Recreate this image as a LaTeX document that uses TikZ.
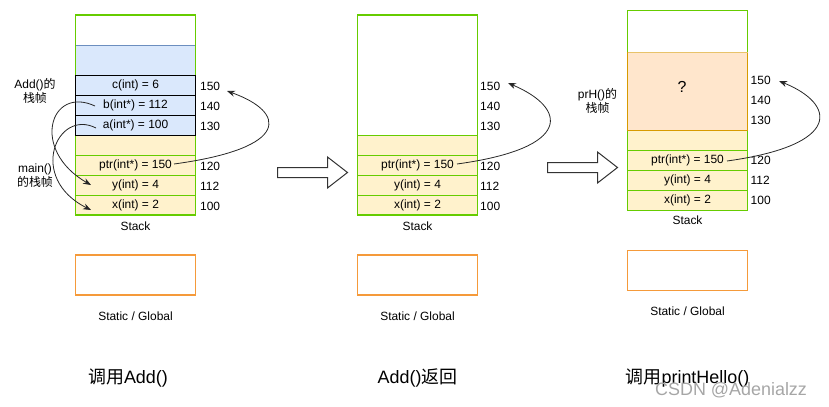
\documentclass[tikz,border=0pt]{standalone}
\usepackage{fontspec}
\setmainfont{Liberation Sans}
\newfontfamily\cjkfont{Noto Sans CJK SC}
\newcommand{\zhtxt}[1]{{\cjkfont #1}}
\usetikzlibrary{arrows.meta}
\definecolor{sgreen}{HTML}{66CC00}
\definecolor{bfill}{HTML}{DAE8FC}
\definecolor{bline}{HTML}{6C8EBF}
\definecolor{yfill}{HTML}{FFF2CC}
\definecolor{ofill}{HTML}{FFE6CC}
\definecolor{oline}{HTML}{D79B00}
\definecolor{otop}{HTML}{E8C36A}
\definecolor{sline}{HTML}{F59A3A}
\begin{document}
\begin{tikzpicture}[x=1bp,y=-1bp,
  cell/.style={minimum width=120bp, minimum height=20bp, inner sep=0pt, outer sep=0pt,
    anchor=north west, font=\fontsize{12}{14}\selectfont, line width=1bp},
  bluecell/.style={cell, fill=bfill, draw=black},
  yelcell/.style={cell, fill=yfill, draw=sgreen},
  outer/.style={draw=sgreen, line width=1.1bp},
  addr/.style={anchor=west, inner sep=0pt, font=\fontsize{12}{14}\selectfont},
  lbl/.style={inner sep=0pt, font=\fontsize{12}{14}\selectfont},
  sidelbl/.style={inner sep=0pt, align=center, font=\fontsize{12}{14}\selectfont},
  title/.style={inner sep=0pt, font=\fontsize{18}{20}\selectfont},
  staticbox/.style={draw=sline, line width=1.1bp, minimum width=120bp, minimum height=40bp,
    inner sep=0pt, outer sep=0pt, anchor=north west},
  conn/.style={draw=black!85, line width=0.8pt, -{Stealth[length=8pt,width=6pt]}},
  block/.style={draw=black!80, line width=1bp, fill=white}
]
\useasboundingbox (0,0) rectangle (829,406);

% ================= Panel 1 =================
\node[cell, minimum height=30bp] (p1top) at (75.5,15) {};
\node[cell, fill=bfill, minimum height=30bp] (p1blue) at (75.5,45) {};
\draw[bline, line width=1bp] (p1blue.north west) -- (p1blue.north east);
\node[yelcell] (p1e) at (75.5,135) {};
\node[yelcell] (p1ptr) at (75.5,155) {ptr(int*) = 150};
\node[yelcell] (p1y) at (75.5,175) {y(int) = 4};
\node[yelcell] (p1x) at (75.5,195) {x(int) = 2};
\draw[outer] (75.5,15) rectangle (195.5,215);
\node[bluecell] (p1c) at (75.5,75) {c(int) = 6};
\node[bluecell] (p1b) at (75.5,95) {b(int*) = 112};
\node[bluecell] (p1a) at (75.5,115) {a(int*) = 100};

\node[addr] (p1a150) at (200,86) {150};
\node[addr] (p1a140) at (200,106) {140};
\node[addr] (p1a130) at (200,126) {130};
\node[addr] (p1a120) at (200,166) {120};
\node[addr] (p1a112) at (200,186) {112};
\node[addr] (p1a100) at (200,206) {100};
\node[lbl] (p1stack) at (135.5,226) {Stack};

\node[sidelbl] (addlbl) at (35,91) {Add()\zhtxt{的}\\\zhtxt{栈帧}};
\node[sidelbl] (mainlbl) at (35,176) {main()\\\zhtxt{的栈帧}};

\coordinate (s1) at (95,106);
\coordinate (e1) at (91,185);
\coordinate (s2) at (96,128);
\coordinate (e2) at (91,210);
\draw[conn] (s1) .. controls (50,85) and (30,150) .. (e1);
\draw[conn] (s2) .. controls (57,108) and (27,178) .. (e2);

\coordinate (q1s) at (174,164);
\coordinate (q1e) at (227,91);
\draw[conn] (q1s) .. controls (292,148) and (286,112) .. (q1e);

\node[staticbox] (p1static) at (75.5,255) {};
\node[lbl] (p1sg) at (135.5,316) {Static / Global};
\node[title] (t1) at (128,378) {\zhtxt{调用}Add()};

% block arrow 1
\draw[block] (277.5,167.5) -- (327.5,167.5) -- (327.5,157) -- (347.5,172.5)
  -- (327.5,188) -- (327.5,177.5) -- (277.5,177.5) -- cycle;

% ================= Panel 2 =================
\node[cell, minimum height=120bp] (p2top) at (357.5,15) {};
\node[yelcell] (p2e) at (357.5,135) {};
\node[yelcell] (p2ptr) at (357.5,155) {ptr(int*) = 150};
\node[yelcell] (p2y) at (357.5,175) {y(int) = 4};
\node[yelcell] (p2x) at (357.5,195) {x(int) = 2};
\draw[outer] (357.5,15) rectangle (477.5,215);

\node[addr] (p2a150) at (480,86) {150};
\node[addr] (p2a140) at (480,106) {140};
\node[addr] (p2a130) at (480,126) {130};
\node[addr] (p2a120) at (480,166) {120};
\node[addr] (p2a112) at (480,186) {112};
\node[addr] (p2a100) at (480,206) {100};
\node[lbl] (p2stack) at (417.5,226) {Stack};

\coordinate (q2s) at (457,164);
\coordinate (q2e) at (508,83);
\draw[conn] (q2s) .. controls (574,148) and (567,108) .. (q2e);

\node[staticbox] (p2static) at (357.5,255) {};
\node[lbl] (p2sg) at (417.5,316) {Static / Global};
\node[title] (t2) at (417.5,378) {Add()\zhtxt{返回}};

% block arrow 2
\draw[block] (547.5,162.5) -- (597.5,162.5) -- (597.5,152) -- (617.5,167.5)
  -- (597.5,183) -- (597.5,172.5) -- (547.5,172.5) -- cycle;

% ================= Panel 3 =================
\node[cell, minimum height=42bp] (p3top) at (627.5,10.5) {};
\node[yelcell] (p3e) at (627.5,130.5) {};
\node[yelcell] (p3ptr) at (627.5,150.5) {ptr(int*) = 150};
\node[yelcell] (p3y) at (627.5,170.5) {y(int) = 4};
\node[yelcell] (p3x) at (627.5,190.5) {x(int) = 2};
\draw[outer] (627.5,10.5) rectangle (747.5,210.5);
\node[cell, fill=ofill, draw=oline, minimum height=78bp] (p3o) at (627.5,52.5) {};
\draw[otop, line width=1.6pt] (p3o.north west) -- (p3o.north east);
\node[inner sep=0pt, font=\fontsize{16}{18}\selectfont] (qm) at (682,87) {?};

\node[addr] (p3a150) at (750.5,80.5) {150};
\node[addr] (p3a140) at (750.5,100.5) {140};
\node[addr] (p3a130) at (750.5,120.5) {130};
\node[addr] (p3a120) at (750.5,160.5) {120};
\node[addr] (p3a112) at (750.5,180.5) {112};
\node[addr] (p3a100) at (750.5,200.5) {100};
\node[lbl] (p3stack) at (687.5,220.5) {Stack};

\node[sidelbl] (prhlbl) at (597.5,101) {prH()\zhtxt{的}\\\zhtxt{栈帧}};

\coordinate (q3s) at (727,161);
\coordinate (q3e) at (779,81);
\draw[conn] (q3s) .. controls (843,145) and (836,104) .. (q3e);

\node[staticbox] (p3static) at (627.5,250.5) {};
\node[lbl] (p3sg) at (687.5,311) {Static / Global};
\node[title] (t3) at (687.5,378) {\zhtxt{调用}printHello()};

% watermark (overlaps the title as in the reference)
\node[inner sep=0pt, anchor=west, text=black!35, font=\fontsize{18}{20}\selectfont] (wm) at (655,390) {CSDN @Adenialzz};
\end{tikzpicture}
\end{document}
